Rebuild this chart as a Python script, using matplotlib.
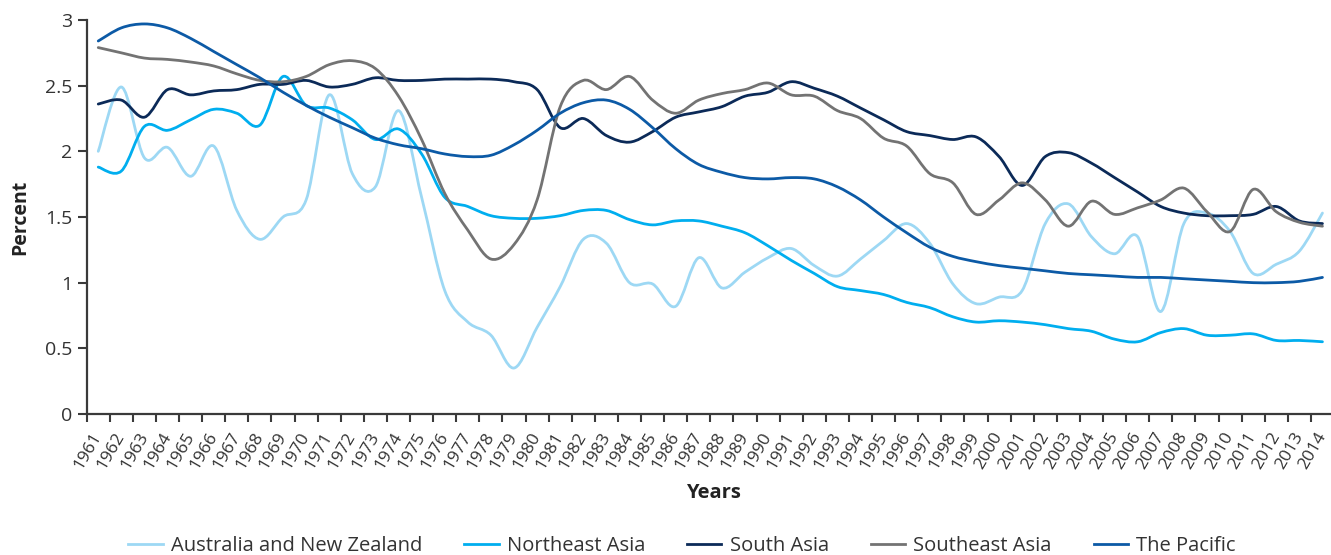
import numpy as np
import matplotlib.pyplot as plt
from matplotlib.path import Path
from matplotlib.patches import PathPatch
from matplotlib.lines import Line2D

plt.rcParams['font.family'] = ['Open Sans', 'DejaVu Sans']

years = [str(y) for y in range(1961, 2015)]

aus_nz = [2.00, 2.49, 1.95, 2.03, 1.81, 2.04, 1.55, 1.33, 1.50, 1.63,
          2.43, 1.83, 1.73, 2.31, 1.65, 0.94, 0.70, 0.60, 0.35, 0.66,
          0.97, 1.33, 1.30, 1.00, 0.99, 0.82, 1.19, 0.96, 1.08, 1.19,
          1.26, 1.13, 1.05, 1.18, 1.32, 1.45, 1.30, 0.99, 0.84, 0.89,
          0.94, 1.45, 1.60, 1.35, 1.22, 1.35, 0.78, 1.45, 1.53, 1.39,
          1.07, 1.14, 1.24, 1.53]
ne_asia = [1.88, 1.85, 2.19, 2.16, 2.24, 2.32, 2.29, 2.20, 2.57, 2.35,
           2.33, 2.24, 2.09, 2.17, 1.98, 1.65, 1.58, 1.51, 1.49, 1.49,
           1.51, 1.55, 1.55, 1.48, 1.44, 1.47, 1.47, 1.43, 1.38, 1.28,
           1.17, 1.07, 0.97, 0.94, 0.91, 0.85, 0.81, 0.74, 0.70, 0.71,
           0.70, 0.68, 0.65, 0.63, 0.57, 0.55, 0.62, 0.65, 0.60, 0.60,
           0.61, 0.56, 0.56, 0.55]
south_asia = [2.36, 2.39, 2.26, 2.47, 2.43, 2.46, 2.47, 2.51, 2.51, 2.54,
              2.49, 2.51, 2.56, 2.54, 2.54, 2.55, 2.55, 2.55, 2.53, 2.47,
              2.18, 2.25, 2.12, 2.07, 2.15, 2.26, 2.30, 2.34, 2.42, 2.45,
              2.53, 2.48, 2.42, 2.33, 2.24, 2.15, 2.12, 2.09, 2.11, 1.96,
              1.74, 1.96, 1.99, 1.91, 1.80, 1.69, 1.58, 1.53, 1.51, 1.51,
              1.52, 1.58, 1.47, 1.45]
se_asia = [2.79, 2.75, 2.71, 2.70, 2.68, 2.65, 2.59, 2.54, 2.53, 2.57,
           2.66, 2.69, 2.63, 2.42, 2.09, 1.68, 1.40, 1.18, 1.29, 1.63,
           2.34, 2.54, 2.47, 2.57, 2.39, 2.29, 2.39, 2.44, 2.47, 2.52,
           2.43, 2.42, 2.31, 2.25, 2.10, 2.04, 1.83, 1.76, 1.52, 1.63,
           1.76, 1.63, 1.43, 1.62, 1.52, 1.57, 1.63, 1.72, 1.54, 1.39,
           1.71, 1.54, 1.46, 1.43]
pacific = [2.84, 2.94, 2.97, 2.94, 2.86, 2.76, 2.66, 2.56, 2.45, 2.35,
           2.26, 2.18, 2.10, 2.05, 2.02, 1.98, 1.96, 1.97, 2.05, 2.16,
           2.29, 2.37, 2.39, 2.32, 2.18, 2.02, 1.90, 1.84, 1.80, 1.79,
           1.80, 1.79, 1.73, 1.63, 1.50, 1.38, 1.27, 1.20, 1.16, 1.13,
           1.11, 1.09, 1.07, 1.06, 1.05, 1.04, 1.04, 1.03, 1.02, 1.01,
           1.00, 1.00, 1.01, 1.04]

series = [
    ('Australia and New Zealand', aus_nz, '#9dd8f4'),
    ('Northeast Asia', ne_asia, '#00aeef'),
    ('South Asia', south_asia, '#0b2a58'),
    ('Southeast Asia', se_asia, '#737373'),
    ('The Pacific', pacific, '#0c5aa6'),
]


# excel style smoothed line: cubic bezier through the points
def smooth_path(ys):
    p = np.column_stack([np.arange(len(ys)), ys]).astype(float)
    ext = np.vstack([p[0], p, p[-1]])
    verts = [p[0]]
    codes = [Path.MOVETO]
    for i in range(len(p) - 1):
        c1 = ext[i + 1] + (ext[i + 2] - ext[i]) / 6
        c2 = ext[i + 2] - (ext[i + 3] - ext[i + 1]) / 6
        verts += [c1, c2, p[i + 1]]
        codes += [Path.CURVE4] * 3
    return Path(verts, codes)


W, H = 1331, 555
fig = plt.figure(figsize=(W / 100, H / 100), dpi=100)
ax = fig.add_axes([86.7 / W, 1 - 414 / H, (1334 - 86.7) / W, (414 - 20) / H])

handles = []
for name, vals, col in series:
    ax.add_patch(PathPatch(smooth_path(vals), fill=False, edgecolor=col,
                           lw=2.0, capstyle='round', joinstyle='round'))
    handles.append(Line2D([], [], color=col, lw=2.0, label=name))

ax.set_xlim(-0.5, len(years) - 0.5)
ax.set_ylim(0, 3)

for s in ['top', 'right']:
    ax.spines[s].set_visible(False)
for s in ['left', 'bottom']:
    ax.spines[s].set_color('#3a3a3a')
    ax.spines[s].set_linewidth(1.6)

ax.set_yticks([0, 0.5, 1, 1.5, 2, 2.5, 3])
ax.set_yticklabels(['0', '0.5', '1', '1.5', '2', '2.5', '3'])
ax.tick_params(axis='y', length=6.5, width=1.5, color='#3a3a3a',
               labelsize=14, labelcolor='#333333', pad=4)

ax.set_xticks(np.arange(len(years)))
ax.set_xticklabels(years, rotation=60, ha='right', va='center',
                   rotation_mode='anchor')
ax.set_xticks(np.arange(len(years) + 1) - 0.5, minor=True)
ax.tick_params(axis='x', which='major', length=0, labelsize=12.5,
               labelcolor='#333333', pad=14)
ax.tick_params(axis='x', which='minor', length=6, width=1.5,
               color='#3a3a3a')

fig.text(20 / W, 1 - 217 / H, 'Percent', rotation=90, ha='center',
         va='center', fontsize=14, fontweight='bold', color='#222222')
fig.text(713 / W, 1 - 493 / H, 'Years', ha='center', va='center',
         fontsize=14.5, fontweight='bold', color='#222222')

fig.legend(handles=handles, loc='center', ncol=5,
           bbox_to_anchor=(682 / W, 1 - 546 / H), frameon=False,
           fontsize=14.5, handlelength=1.7, handletextpad=0.4,
           columnspacing=2.1, labelcolor='#333333')

fig.savefig('out.png', dpi=100)
